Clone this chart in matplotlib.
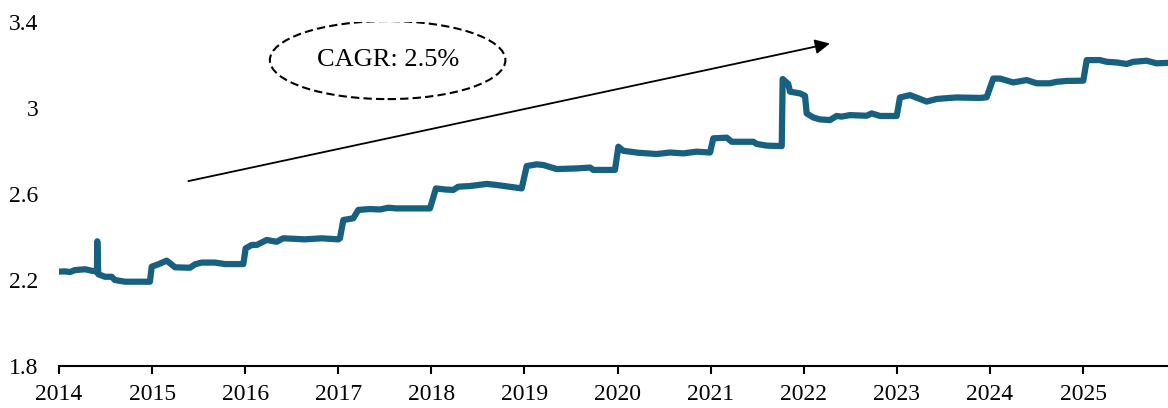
import matplotlib
matplotlib.use("Agg")
import matplotlib.pyplot as plt
from matplotlib.patches import Ellipse

# ---- data (decimal year, value) ----
years = [2014.000, 2014.064, 2014.118, 2014.172, 2014.279, 2014.387, 2014.408, 2014.411,
         2014.422, 2014.494, 2014.566, 2014.600, 2014.709, 2014.977, 2014.996, 2015.067,
         2015.157, 2015.192, 2015.246, 2015.407, 2015.461, 2015.533, 2015.676, 2015.783,
         2015.980, 2016.005, 2016.070, 2016.124, 2016.231, 2016.338, 2016.409, 2016.642,
         2016.822, 2017.000, 2017.018, 2017.054, 2017.161, 2017.215, 2017.340, 2017.448,
         2017.537, 2017.627, 2017.985, 2018.049, 2018.146, 2018.235, 2018.289, 2018.415,
         2018.594, 2018.701, 2018.970, 2019.024, 2019.131, 2019.202, 2019.346, 2019.561,
         2019.704, 2019.739, 2019.972, 2020.008, 2020.061, 2020.222, 2020.420, 2020.563,
         2020.706, 2020.850, 2020.993, 2021.028, 2021.172, 2021.226, 2021.458, 2021.494,
         2021.601, 2021.763, 2021.773, 2021.833, 2021.852, 2021.959, 2022.013, 2022.031,
         2022.102, 2022.174, 2022.281, 2022.353, 2022.407, 2022.496, 2022.675, 2022.729,
         2022.819, 2022.998, 2023.033, 2023.141, 2023.320, 2023.427, 2023.570, 2023.642,
         2023.893, 2023.964, 2024.035, 2024.107, 2024.250, 2024.394, 2024.502, 2024.644,
         2024.716, 2024.824, 2025.002, 2025.039, 2025.181, 2025.253, 2025.361, 2025.468,
         2025.539, 2025.682, 2025.790, 2025.912]
values = [2.239, 2.240, 2.237, 2.246, 2.250, 2.240, 2.240, 2.380,
          2.227, 2.215, 2.215, 2.200, 2.192, 2.192, 2.262, 2.273,
          2.290, 2.278, 2.259, 2.257, 2.273, 2.281, 2.281, 2.274,
          2.274, 2.347, 2.363, 2.363, 2.386, 2.378, 2.394, 2.389,
          2.394, 2.389, 2.394, 2.479, 2.487, 2.526, 2.530, 2.528,
          2.536, 2.533, 2.533, 2.626, 2.621, 2.619, 2.634, 2.637,
          2.647, 2.642, 2.626, 2.730, 2.738, 2.735, 2.716, 2.719,
          2.723, 2.712, 2.712, 2.820, 2.801, 2.792, 2.786, 2.793,
          2.789, 2.797, 2.793, 2.859, 2.862, 2.843, 2.843, 2.833,
          2.825, 2.823, 3.135, 3.112, 3.076, 3.068, 3.057, 2.975,
          2.956, 2.947, 2.944, 2.963, 2.960, 2.967, 2.964, 2.975,
          2.963, 2.963, 3.049, 3.060, 3.030, 3.042, 3.047, 3.049,
          3.047, 3.050, 3.137, 3.137, 3.119, 3.130, 3.115, 3.115,
          3.122, 3.126, 3.127, 3.223, 3.223, 3.215, 3.212, 3.205,
          3.215, 3.220, 3.208, 3.210]

xtick_years = [2014, 2015, 2016, 2017, 2018, 2019, 2020, 2021, 2022, 2023, 2024, 2025]
ytick_values = [1.8, 2.2, 2.6, 3.0, 3.4]
ytick_labels = ["1.8", "2.2", "2.6", "3", "3.4"]
cagr_label = "CAGR: 2.5%"
arrow_start = (2015.39, 2.66)
arrow_end = (2022.28, 3.30)
ellipse_center = (2017.53, 3.223)

plt.rcParams['font.family'] = ['Liberation Serif', 'DejaVu Serif']

fig = plt.figure(figsize=(11.68, 4.08), dpi=100)
ax = fig.add_axes([0.0505, 0.103, 0.9495, 0.843])

ax.plot(years, values, color='#186080', lw=4.5, solid_joinstyle='round',
        solid_capstyle='round')

ax.set_xlim(2014, 2025.912)
ax.set_ylim(1.8, 3.4)
ax.set_xticks(xtick_years)
ax.set_xticklabels([str(y) for y in xtick_years], fontsize=17)
ax.set_yticks(ytick_values)
ax.set_yticklabels(ytick_labels, fontsize=17)

for s in ['top', 'right', 'left']:
    ax.spines[s].set_visible(False)
ax.spines['bottom'].set_linewidth(1.5)
ax.tick_params(axis='x', length=6, width=1.5, pad=7, direction='out')
ax.tick_params(axis='y', length=0, pad=15)

ax.annotate('', xy=arrow_end, xytext=arrow_start,
            arrowprops=dict(arrowstyle='-|>', color='black', lw=1.3,
                            mutation_scale=22, shrinkA=0, shrinkB=0))

ell = Ellipse(ellipse_center, width=2.53, height=0.363, fill=False,
              edgecolor='black', lw=1.5, linestyle=(0, (4, 2)))
ax.add_patch(ell)
ax.text(ellipse_center[0], ellipse_center[1], cagr_label, ha='center', va='center',
        fontsize=19)

fig.savefig('out.png', dpi=100)
